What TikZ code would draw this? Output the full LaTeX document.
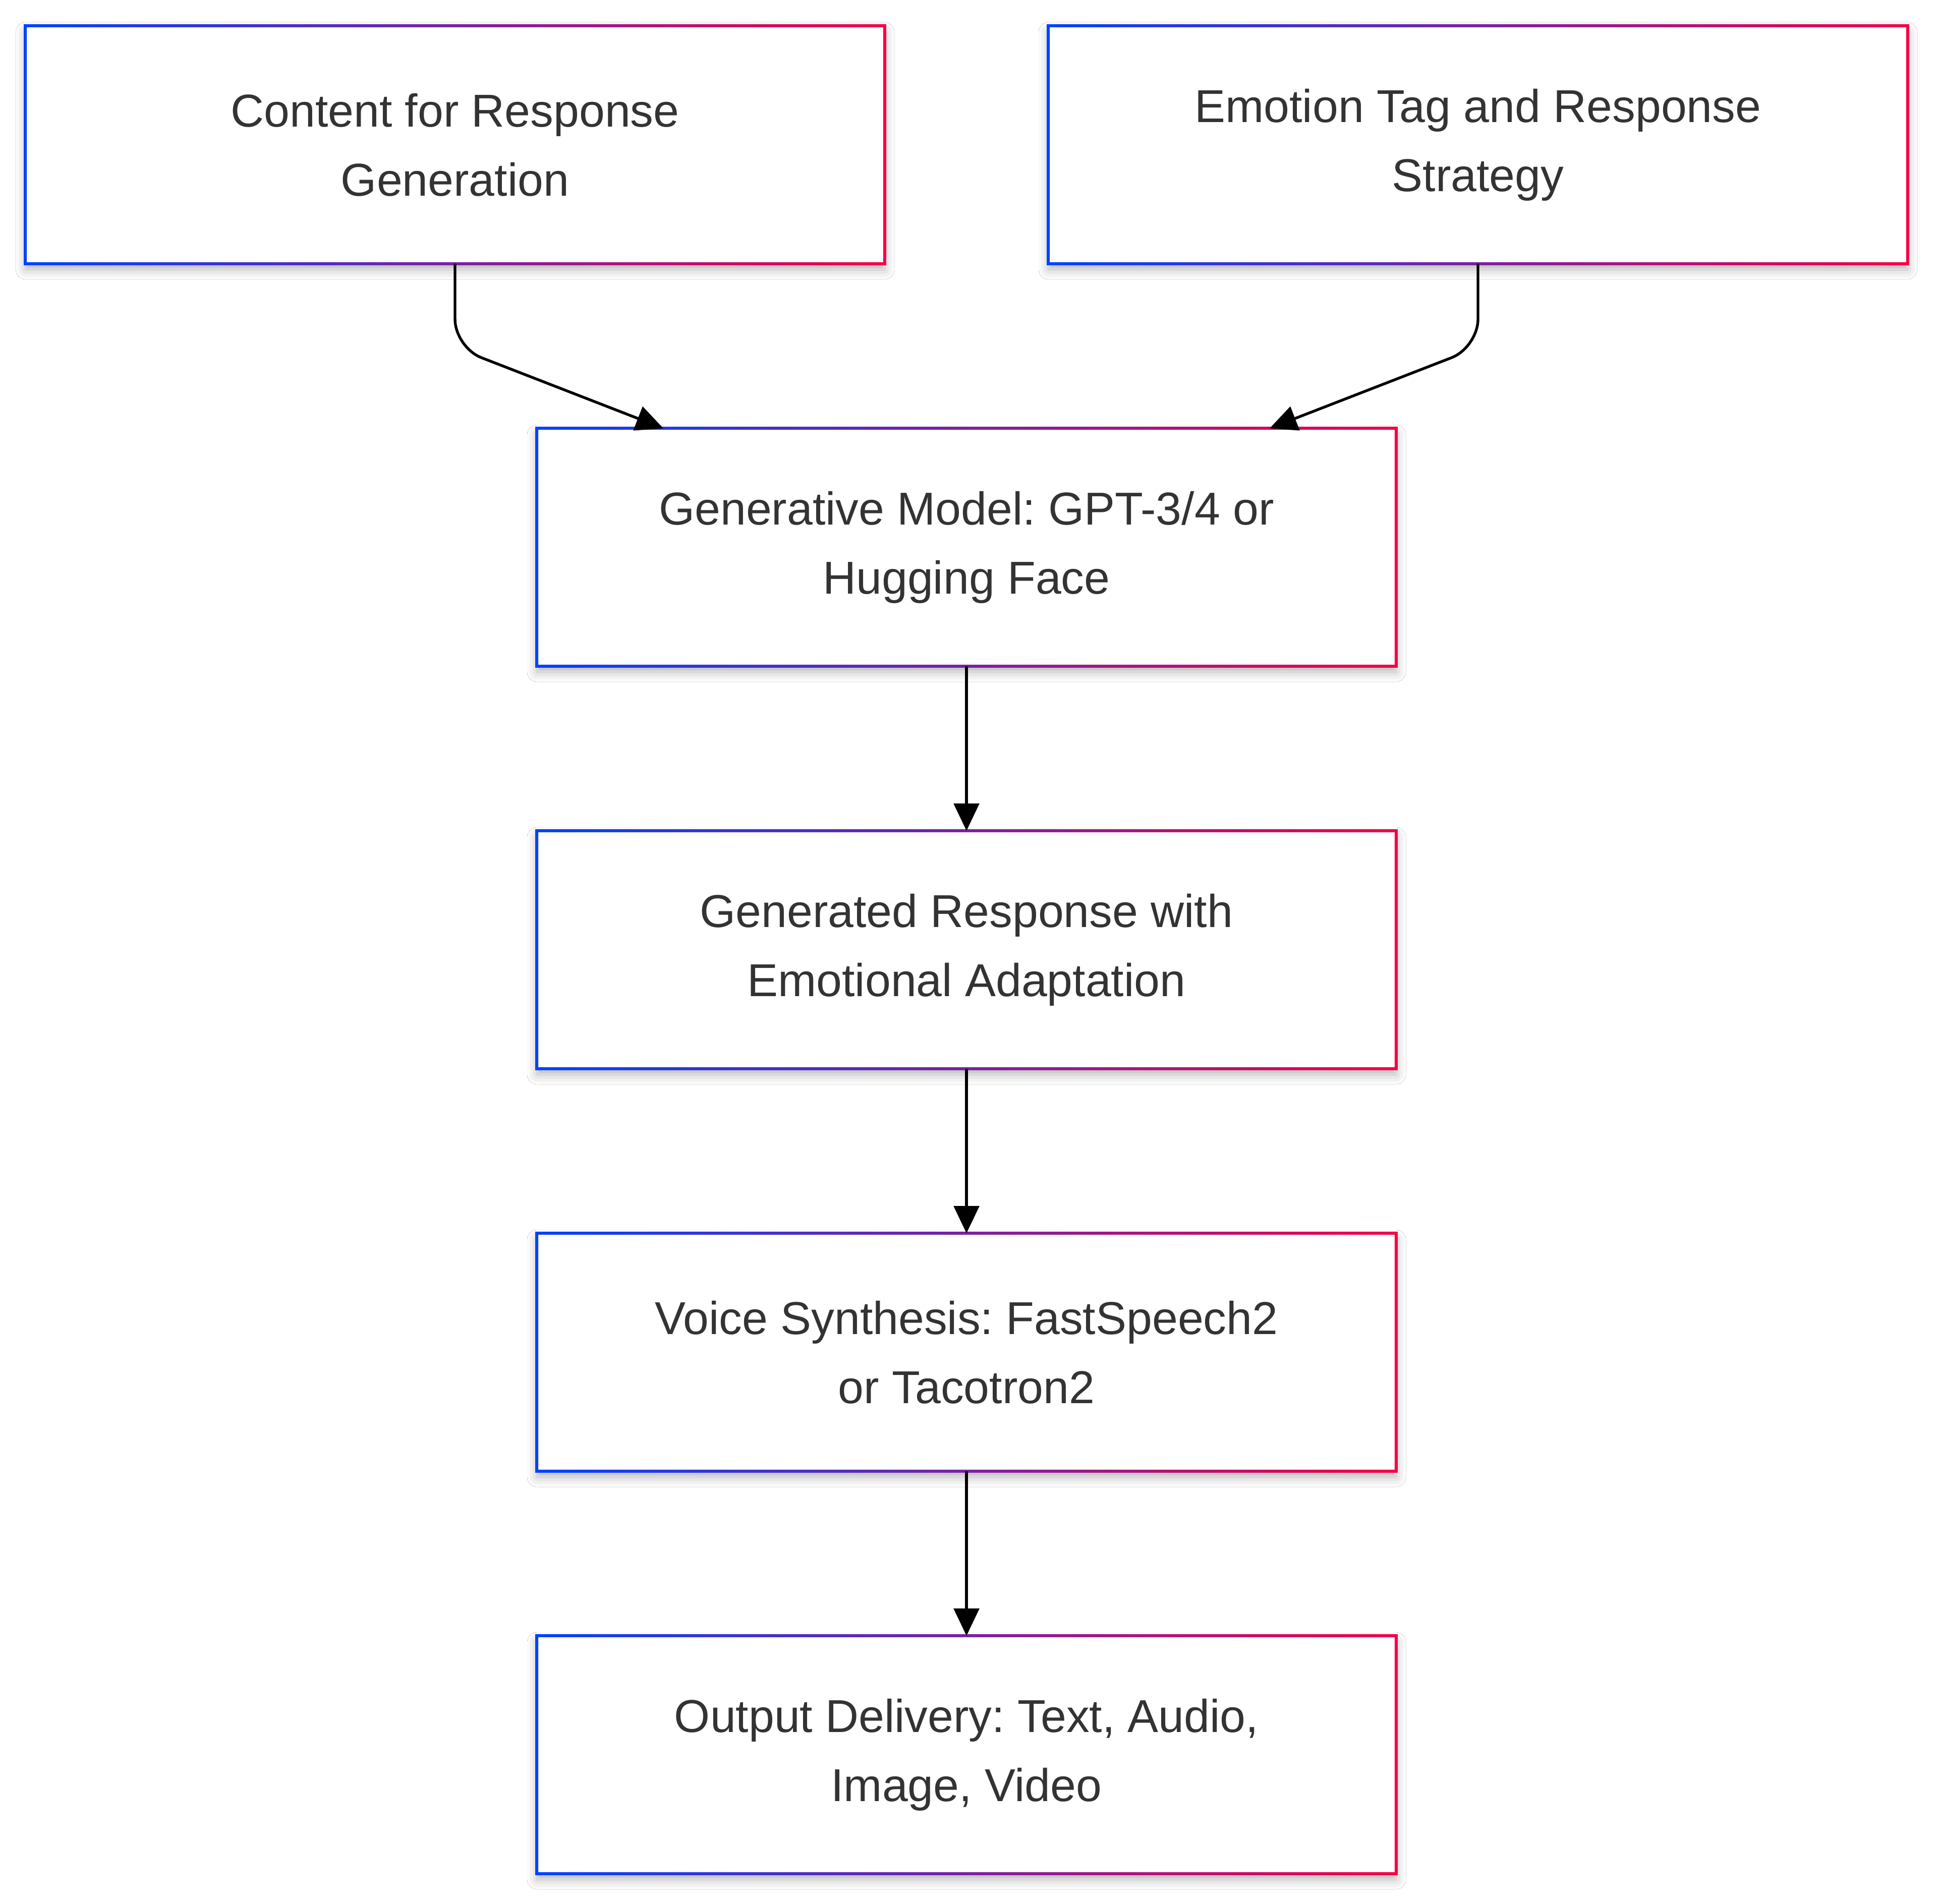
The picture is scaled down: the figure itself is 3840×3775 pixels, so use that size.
\documentclass[tikz,border=0pt]{standalone}
\usepackage{fontspec}
\setmainfont{Liberation Sans}
\usetikzlibrary{arrows.meta,calc,shadows.blur}
\definecolor{gbl}{RGB}{0,66,255}
\definecolor{gbr}{RGB}{245,0,70}
\definecolor{txt}{RGB}{51,51,51}
\frenchspacing
\begin{document}
\begin{tikzpicture}[x=0.25pt,y=-0.25pt,
  box/.style={rectangle, fill=white, draw=none, minimum width=425.5pt, minimum height=117.5pt,
    inner sep=0pt, align=center, text=txt, font=\fontsize{22.85}{34.25}\selectfont,
    blur shadow={shadow xshift=0pt,shadow yshift=-3pt,shadow blur radius=5pt,shadow opacity=30}},
  conn/.style={line width=1.35pt, draw=black, -{Triangle[length=13.5pt,width=12.5pt]}},
]
\useasboundingbox[fill=white] (0,0) rectangle (3840,3775);
\node[box] (b1) at (902,287) {Content for Response\\Generation};
\node[box] (b2) at (2930,287) {Emotion Tag and Response\\Strategy};
\node[box] (b3) at (1916,1085) {Generative Model: GPT-3/4 or\\Hugging Face};
\node[box] (b4) at (1916,1883) {Generated Response with\\Emotional Adaptation};
\node[box] (b5) at (1916,2681) {Voice Synthesis: FastSpeech2\\or Tacotron2};
\node[box] (b6) at (1916,3479) {Output Delivery: Text, Audio,\\Image, Video};
\foreach \n in {b1,b2,b3,b4,b5,b6}{
  \shade[left color=gbl,right color=gbr,even odd rule]
    ($(\n.north west)+(-3,-3)$) rectangle ($(\n.south east)+(3,3)$)
    ($(\n.north west)+(3,3)$) rectangle ($(\n.south east)+(-3,-3)$);
}
\coordinate (t1) at ($(b3.north)+(-601,0)$);
\coordinate (t2) at ($(b3.north)+(601,0)$);
\draw[conn, rounded corners=14pt] (b1.south) -- ($(b1.south)+(0,166)$) -- (t1);
\draw[conn, rounded corners=14pt] (b2.south) -- ($(b2.south)+(0,166)$) -- (t2);
\draw[conn] (b3.south) -- (b4.north);
\draw[conn] (b4.south) -- (b5.north);
\draw[conn] (b5.south) -- (b6.north);
\end{tikzpicture}
\end{document}
